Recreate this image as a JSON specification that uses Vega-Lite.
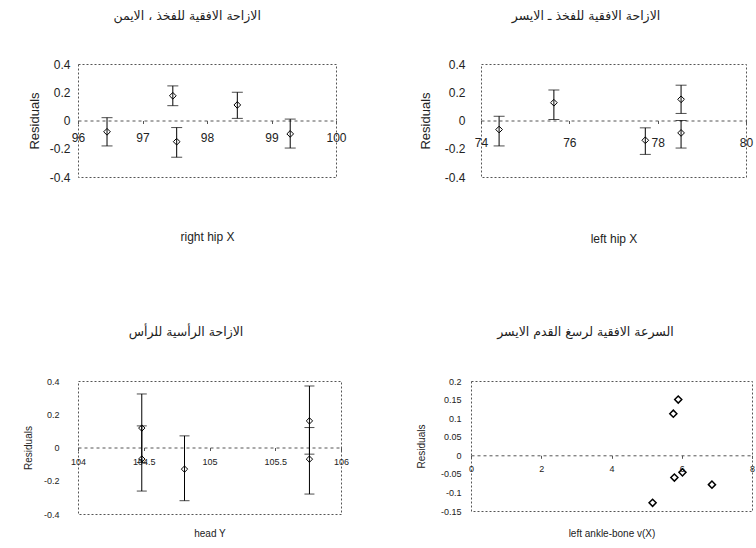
{
  "$schema": "https://vega.github.io/schema/vega-lite/v6.json",
  "padding": {"left": 22, "top": 9, "right": 0, "bottom": 0},
  "spacing": 80,
  "columns": 1,
  "config": {
    "font": "Liberation Sans",
    "view": {"stroke": "#555", "strokeDash": [2, 2], "strokeWidth": 1},
    "axis": {"grid": false, "labelColor": "#222", "titleColor": "#222", "titleFontWeight": "normal", "labelFont": "Liberation Sans", "titleFont": "Liberation Sans", "minExtent": 0, "labelFlush": false, "labelOverlap": false},
    "title": {"font": "DejaVu Sans", "fontSize": 12.5, "fontWeight": "normal", "color": "#222", "frame": "bounds"}
  },
  "concat": [
    {
      "hconcat": [
        {
          "width": 258, "height": 113,
          "title": {"text": "الازاحة الافقية للفخذ ، الايمن", "offset": 36},
          "data": {"values": [
            {"x": 96.45, "y": -0.08, "lo": -0.18, "hi": 0.02},
            {"x": 97.47, "y": 0.175, "lo": 0.105, "hi": 0.245},
            {"x": 97.53, "y": -0.15, "lo": -0.26, "hi": -0.05},
            {"x": 98.47, "y": 0.11, "lo": 0.015, "hi": 0.2},
            {"x": 99.29, "y": -0.095, "lo": -0.195, "hi": 0.01}
          ]},
          "layer": [
            {
              "mark": {"type": "errorbar", "ticks": {"size": 11}, "color": "black", "thickness": 1},
              "encoding": {
                "x": {"field": "x", "type": "quantitative", "scale": {"domain": [96, 100], "nice": false, "zero": false},
                  "axis": {"title": "right hip X", "values": [96, 97, 98, 99, 100], "labelExpr": "'' + datum.value", "offset": -56.5, "domainDash": [3, 3], "domainColor": "#555", "tickSize": 3, "tickColor": "#555", "labelPadding": 9, "labelFontSize": 12, "titleFontSize": 12, "titlePadding": 88}},
                "y": {"field": "lo", "type": "quantitative", "scale": {"domain": [-0.4, 0.4], "nice": false, "zero": false},
                  "axis": {"title": "Residuals", "values": [-0.4, -0.2, 0, 0.2, 0.4], "labelExpr": "'' + datum.value", "domain": false, "ticks": false, "labelPadding": 8, "labelFontSize": 12, "titleFontSize": 13, "titlePadding": 8}},
                "y2": {"field": "hi"}
              }
            },
            {
              "mark": {"type": "point", "shape": "diamond", "filled": false, "stroke": "black", "strokeWidth": 1, "size": 45, "opacity": 1},
              "encoding": {
                "x": {"field": "x", "type": "quantitative", "scale": {"domain": [96, 100], "nice": false, "zero": false},
                  "axis": {"title": "right hip X", "values": [96, 97, 98, 99, 100], "labelExpr": "'' + datum.value", "offset": -56.5, "domainDash": [3, 3], "domainColor": "#555", "tickSize": 3, "tickColor": "#555", "labelPadding": 9, "labelFontSize": 12, "titleFontSize": 12, "titlePadding": 88}},
                "y": {"field": "y", "type": "quantitative", "scale": {"domain": [-0.4, 0.4], "nice": false, "zero": false},
                  "axis": {"title": "Residuals", "values": [-0.4, -0.2, 0, 0.2, 0.4], "labelExpr": "'' + datum.value", "domain": false, "ticks": false, "labelPadding": 8, "labelFontSize": 12, "titleFontSize": 13, "titlePadding": 8}}
              }
            }
          ]
        },
        {
          "width": 265, "height": 113,
          "title": {"text": "الازاحة الافقية للفخذ ـ الايسر", "offset": 36},
          "data": {"values": [
            {"x": 74.41, "y": -0.064, "lo": -0.18, "hi": 0.03},
            {"x": 75.65, "y": 0.126, "lo": 0.007, "hi": 0.216},
            {"x": 77.72, "y": -0.14, "lo": -0.24, "hi": -0.052},
            {"x": 78.53, "y": 0.15, "lo": 0.05, "hi": 0.25},
            {"x": 78.53, "y": -0.088, "lo": -0.195, "hi": 0.0}
          ]},
          "layer": [
            {
              "mark": {"type": "errorbar", "ticks": {"size": 11}, "color": "black", "thickness": 1},
              "encoding": {
                "x": {"field": "x", "type": "quantitative", "scale": {"domain": [74, 80], "nice": false, "zero": false},
                  "axis": {"title": "left hip X", "values": [74, 76, 78, 80], "labelExpr": "'' + datum.value", "offset": -56.5, "domainDash": [3, 3], "domainColor": "#555", "tickSize": 3, "tickColor": "#555", "labelPadding": 14, "labelFontSize": 12, "titleFontSize": 12, "titlePadding": 85}},
                "y": {"field": "lo", "type": "quantitative", "scale": {"domain": [-0.4, 0.4], "nice": false, "zero": false},
                  "axis": {"title": "Residuals", "values": [-0.4, -0.2, 0, 0.2, 0.4], "labelExpr": "'' + datum.value", "domain": false, "ticks": false, "labelPadding": 16, "labelFontSize": 12, "titleFontSize": 13, "titlePadding": 12}},
                "y2": {"field": "hi"}
              }
            },
            {
              "mark": {"type": "point", "shape": "diamond", "filled": false, "stroke": "black", "strokeWidth": 1, "size": 45, "opacity": 1},
              "encoding": {
                "x": {"field": "x", "type": "quantitative", "scale": {"domain": [74, 80], "nice": false, "zero": false},
                  "axis": {"title": "left hip X", "values": [74, 76, 78, 80], "labelExpr": "'' + datum.value", "offset": -56.5, "domainDash": [3, 3], "domainColor": "#555", "tickSize": 3, "tickColor": "#555", "labelPadding": 14, "labelFontSize": 12, "titleFontSize": 12, "titlePadding": 85}},
                "y": {"field": "y", "type": "quantitative", "scale": {"domain": [-0.4, 0.4], "nice": false, "zero": false},
                  "axis": {"title": "Residuals", "values": [-0.4, -0.2, 0, 0.2, 0.4], "labelExpr": "'' + datum.value", "domain": false, "ticks": false, "labelPadding": 16, "labelFontSize": 12, "titleFontSize": 13, "titlePadding": 12}}
              }
            }
          ]
        }
      ],
      "spacing": 71
    },
    {
      "hconcat": [
        {
          "width": 263, "height": 133,
          "title": {"text": "الازاحة الرأسية للرأس", "offset": 39},
          "data": {"values": [
            {"x": 104.485, "y": 0.117, "lo": -0.09, "hi": 0.322},
            {"x": 104.485, "y": -0.069, "lo": -0.262, "hi": 0.13},
            {"x": 104.81, "y": -0.13, "lo": -0.32, "hi": 0.07},
            {"x": 105.76, "y": 0.16, "lo": -0.04, "hi": 0.37},
            {"x": 105.76, "y": -0.07, "lo": -0.28, "hi": 0.12}
          ]},
          "layer": [
            {
              "mark": {"type": "errorbar", "ticks": {"size": 10}, "color": "black", "thickness": 1},
              "encoding": {
                "x": {"field": "x", "type": "quantitative", "scale": {"domain": [104, 106], "nice": false, "zero": false},
                  "axis": {"title": "head Y", "values": [104, 104.5, 105, 105.5, 106], "labelExpr": "'' + datum.value", "offset": -66.5, "domainDash": [3, 3], "domainColor": "#555", "tickSize": 3, "tickColor": "#555", "labelPadding": 7, "labelFontSize": 9, "titleFontSize": 10, "titlePadding": 62}},
                "y": {"field": "lo", "type": "quantitative", "scale": {"domain": [-0.4, 0.4], "nice": false, "zero": false},
                  "axis": {"title": "Residuals", "values": [-0.4, -0.2, 0, 0.2, 0.4], "labelExpr": "'' + datum.value", "domain": false, "ticks": false, "labelPadding": 19, "labelFontSize": 9, "titleFontSize": 10, "titlePadding": 10}},
                "y2": {"field": "hi"}
              }
            },
            {
              "mark": {"type": "point", "shape": "diamond", "filled": false, "stroke": "black", "strokeWidth": 1, "size": 40, "opacity": 1},
              "encoding": {
                "x": {"field": "x", "type": "quantitative", "scale": {"domain": [104, 106], "nice": false, "zero": false},
                  "axis": {"title": "head Y", "values": [104, 104.5, 105, 105.5, 106], "labelExpr": "'' + datum.value", "offset": -66.5, "domainDash": [3, 3], "domainColor": "#555", "tickSize": 3, "tickColor": "#555", "labelPadding": 7, "labelFontSize": 9, "titleFontSize": 10, "titlePadding": 62}},
                "y": {"field": "y", "type": "quantitative", "scale": {"domain": [-0.4, 0.4], "nice": false, "zero": false},
                  "axis": {"title": "Residuals", "values": [-0.4, -0.2, 0, 0.2, 0.4], "labelExpr": "'' + datum.value", "domain": false, "ticks": false, "labelPadding": 19, "labelFontSize": 9, "titleFontSize": 10, "titlePadding": 10}}
              }
            }
          ]
        },
        {
          "width": 281, "height": 130,
          "title": {"text": "السرعة الافقية لرسغ القدم الايسر", "offset": 39},
          "data": {"values": [
            {"x": 5.9, "y": 0.15},
            {"x": 5.76, "y": 0.112},
            {"x": 5.79, "y": -0.06},
            {"x": 6.02, "y": -0.046},
            {"x": 6.86, "y": -0.079},
            {"x": 5.17, "y": -0.128}
          ]},
          "mark": {"type": "point", "shape": "diamond", "filled": false, "stroke": "black", "strokeWidth": 1.5, "size": 50, "opacity": 1},
          "encoding": {
            "x": {"field": "x", "type": "quantitative", "scale": {"domain": [0, 8], "nice": false, "zero": false},
              "axis": {"title": "left ankle-bone v(X)", "values": [0, 2, 4, 6, 8], "labelExpr": "'' + datum.value", "offset": -55.7, "domainDash": [3, 3], "domainColor": "#555", "tickSize": 3, "tickColor": "#555", "labelPadding": 6, "labelFontSize": 9, "titleFontSize": 10, "titlePadding": 55}},
            "y": {"field": "y", "type": "quantitative", "scale": {"domain": [-0.15, 0.2], "nice": false, "zero": false},
              "axis": {"title": "Residuals", "values": [-0.15, -0.1, -0.05, 0, 0.05, 0.1, 0.15, 0.2], "labelExpr": "'' + datum.value", "domain": false, "ticks": false, "labelPadding": 10, "labelFontSize": 9, "titleFontSize": 10, "titlePadding": 14}}
          }
        }
      ],
      "spacing": 65
    }
  ]
}
